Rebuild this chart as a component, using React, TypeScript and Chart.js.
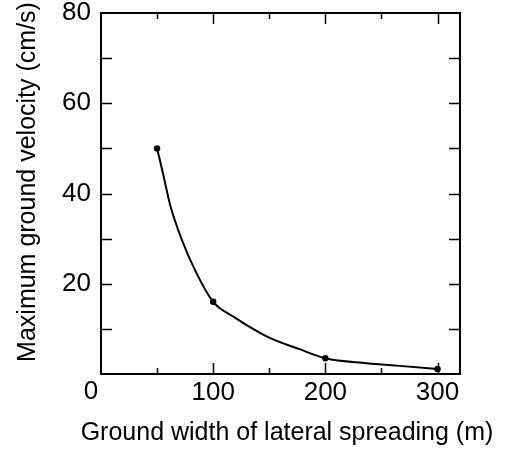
import React, { useEffect, useRef } from "react";
import { Chart, registerables } from "chart.js";

Chart.register(...registerables);

// measured points
const widths = [50, 100, 200, 300];
const velocities = [50, 16, 3.5, 1.1];
// fitted curve
const curveX = [50, 55, 62, 72, 85, 100, 118, 148, 177, 200, 237, 266, 300];
const curveY = [50, 44.7, 37.1, 29.8, 22.4, 16, 12.7, 8.3, 5.5, 3.5, 2.4, 1.8, 1.1];
const xTicksMajor = [0, 100, 200, 300];
const yTicksMajor = [20, 40, 60, 80];
const xTitle = "Ground width of lateral spreading (m)";
const yTitle = "Maximum ground velocity (cm/s)";

const FONT = "'Liberation Sans', Arial, Helvetica, sans-serif";

const framePlugin = {
  id: "frameTicks",
  afterDraw(chart: any) {
    const { ctx, chartArea } = chart;
    const { left, right, top, bottom } = chartArea;
    const xs = chart.scales.x;
    const ys = chart.scales.y;
    ctx.save();
    ctx.strokeStyle = "#000";
    ctx.lineWidth = 2;
    ctx.strokeRect(left, top, right - left, bottom - top);
    ctx.lineWidth = 1.5;
    ctx.beginPath();
    xs.ticks.forEach((t: any) => {
      if (t.value <= xs.min || t.value >= xs.max) return;
      const px = Math.round(xs.getPixelForValue(t.value)) + 0.5;
      const len = xTicksMajor.includes(t.value) ? 11 : 6;
      ctx.moveTo(px, bottom);
      ctx.lineTo(px, bottom - len);
      ctx.moveTo(px, top);
      ctx.lineTo(px, top + len);
    });
    ys.ticks.forEach((t: any) => {
      if (t.value <= ys.min || t.value >= ys.max) return;
      const py = Math.round(ys.getPixelForValue(t.value)) + 0.5;
      const len = 11;
      ctx.moveTo(left, py);
      ctx.lineTo(left + len, py);
      ctx.moveTo(right, py);
      ctx.lineTo(right - len, py);
    });
    ctx.stroke();
    ctx.fillStyle = "#000";
    // shared origin label
    ctx.font = `26px ${FONT}`;
    ctx.textAlign = "center";
    ctx.textBaseline = "middle";
    ctx.fillText("0", xs.getPixelForValue(0) - 10, bottom + 18);
    // axis titles
    ctx.font = `25px ${FONT}`;
    ctx.fillText(xTitle, 287, 433);
    ctx.translate(28, 182);
    ctx.rotate(-Math.PI / 2);
    ctx.fillText(yTitle, 0, 0);
    ctx.restore();
  },
};

export default function App() {
  const ref = useRef<HTMLCanvasElement | null>(null);

  useEffect(() => {
    document.body.style.margin = "0";
    const canvas = ref.current;
    if (!canvas) return;
    const chart = new Chart(canvas, {
      type: "scatter",
      data: {
        datasets: [
          {
            data: curveX.map((x, i) => ({ x, y: curveY[i] })),
            showLine: true,
            borderColor: "#000",
            borderWidth: 2,
            pointRadius: 0,
            cubicInterpolationMode: "monotone",
          },
          {
            data: widths.map((w, i) => ({ x: w, y: velocities[i] })),
            showLine: false,
            backgroundColor: "#000",
            borderColor: "#000",
            pointRadius: 3.2,
            pointBorderWidth: 0,
          },
        ],
      },
      options: {
        responsive: false,
        animation: false,
        events: [],
        layout: { padding: { left: 0, top: 13, right: 49, bottom: 0 } },
        plugins: {
          legend: { display: false },
          tooltip: { enabled: false },
        },
        scales: {
          x: {
            type: "linear",
            min: 0,
            max: 320,
            grid: { display: false, drawTicks: false },
            border: { display: false },
            ticks: {
              stepSize: 50,
              includeBounds: false,
              autoSkip: false,
              maxRotation: 0,
              padding: 3,
              color: "#000",
              font: { family: FONT, size: 26 },
              callback: (v: any) =>
                xTicksMajor.includes(v) && v !== 0 ? String(v) : "",
            },
            title: { display: false },
            afterFit: (s: any) => {
              s.height = 75;
              s.paddingLeft = 0;
              s.paddingRight = 0;
            },
          },
          y: {
            type: "linear",
            min: 0,
            max: 80,
            grid: { display: false, drawTicks: false },
            border: { display: false },
            ticks: {
              stepSize: 10,
              includeBounds: false,
              autoSkip: false,
              padding: 10,
              color: "#000",
              font: { family: FONT, size: 26 },
              callback: (v: any) => (yTicksMajor.includes(v) ? String(v) : ""),
            },
            title: { display: false },
            afterFit: (s: any) => {
              s.width = 101;
              s.paddingTop = 0;
              s.paddingBottom = 0;
            },
          },
        },
      },
      plugins: [framePlugin],
    } as any);
    return () => chart.destroy();
  }, []);

  return (
    <div style={{ width: 509, height: 449, background: "#fff" }}>
      <canvas ref={ref} width={509} height={449} />
    </div>
  );
}
